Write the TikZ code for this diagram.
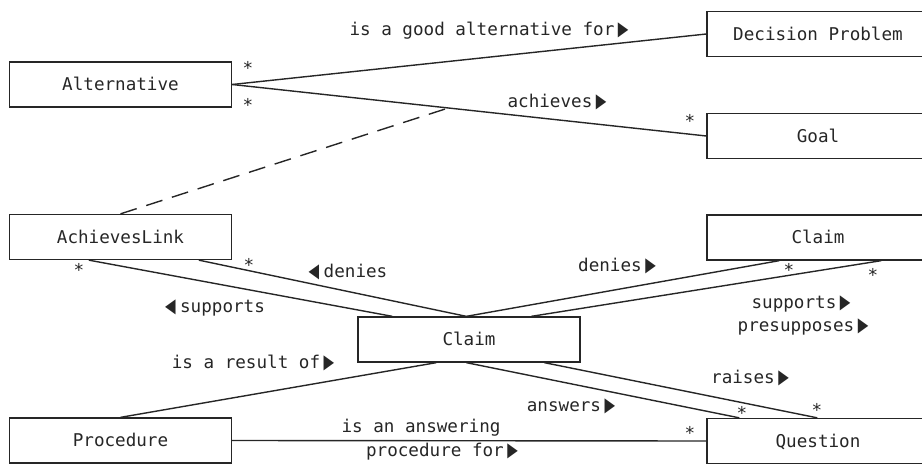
\documentclass[tikz,border=0pt]{standalone}
\usepackage{fontspec}
\setmonofont{DejaVu Sans Mono}
\newfontfamily\symfont{DejaVu Sans}
\usetikzlibrary{calc}
\newcommand{\rtri}{\hspace{3.5pt}\scalebox{0.78}[1.12]{\symfont ▶}}
\newcommand{\ltri}{\scalebox{0.78}[1.12]{\symfont ◀}\hspace{4.5pt}}
\tikzset{
  umlfont/.style={font=\ttfamily\fontsize{17.6}{20}\selectfont, text=black!85},
  cls/.style={umlfont, draw=black!85, line width=1.3pt, minimum width=222pt,
    minimum height=45pt, inner sep=0pt, text height=12.7pt, text depth=0pt},
  assoc/.style={draw=black!85, line width=1.4pt},
  lbl/.style={umlfont, anchor=base, inner sep=0pt},
  mult/.style={umlfont, inner sep=0pt},
}
\begin{document}
\begin{tikzpicture}[x=1pt, y=-1pt]
\useasboundingbox (0,0) rectangle (922,468);
% classes
\node[cls] (alt)  at (120.5, 84.5) {Alternative};
\node[cls] (dp)   at (818, 34)     {Decision Problem};
\node[cls] (goal) at (818, 136)    {Goal};
\node[cls] (al)   at (120.5, 237)  {AchievesLink};
\node[cls] (clr)  at (818, 237.5)  {Claim};
\node[cls] (cl)   at (469, 339.5)  {Claim};
\node[cls] (proc) at (120.5, 440.5){Procedure};
\node[cls] (q)    at (818, 441)    {Question};

% attachment points
\coordinate (alS1) at ([xshift=80pt]al.south west);
\coordinate (alS2) at ([xshift=190pt]al.south west);
\coordinate (clN1) at ([xshift=35pt]cl.north west);
\coordinate (clN2) at ([xshift=109pt]cl.north west);
\coordinate (clN3) at ([xshift=174pt]cl.north west);
\coordinate (clS1) at ([xshift=79pt]cl.south west);
\coordinate (clS2) at ([xshift=109pt]cl.south west);
\coordinate (clS3) at ([xshift=187pt]cl.south west);
\coordinate (clrS1) at ([xshift=73pt]clr.south west);
\coordinate (clrS2) at ([xshift=175pt]clr.south west);
\coordinate (qN1) at ([xshift=33pt]q.north west);
\coordinate (qN2) at ([xshift=111pt]q.north west);

% associations
\draw[assoc] (alt.east) -- (dp.west);
\draw[assoc] (alt.east) -- (goal.west);
\coordinate (achmid) at ($(alt.east)!0.456!(goal.west)$);
\draw[assoc, dash pattern=on 17pt off 10pt] (al.north) -- (achmid);
\draw[assoc] (alS1) -- (clN1);
\draw[assoc] (alS2) -- (clN2);
\draw[assoc] (clN2) -- (clrS1);
\draw[assoc] (clN3) -- (clrS2);
\draw[assoc] (clS1) -- (proc.north);
\draw[assoc] (clS2) -- (qN1);
\draw[assoc] (clS3) -- (qN2);
\draw[assoc] (proc.east) -- (q.west);

% labels
\node[lbl] (l1) at (489, 36) {is a good alternative for\rtri};
\node[lbl] (l2) at (557, 108) {achieves\rtri};
\node[lbl] (l3) at (348, 277) {\ltri denies};
\node[lbl] (l4) at (215, 312) {\ltri supports};
\node[lbl] (l5) at (253, 368) {is a result of\rtri};
\node[lbl] (l6) at (617, 271) {denies\rtri};
\node[lbl] (l7) at (801, 308) {supports\rtri};
\node[lbl] (l8) at (803, 331) {presupposes\rtri};
\node[lbl] (l9) at (750, 383) {raises\rtri};
\node[lbl] (l10) at (571, 411) {answers\rtri};
\node[lbl] (l11) at (421, 432) {is an answering};
\node[lbl] (l12) at (442, 456) {procedure for\rtri};

% multiplicities
\node[mult] (m1) at (248, 68) {*};
\node[mult] (m2) at (248, 105) {*};
\node[mult] (m3) at (690, 121) {*};
\node[mult] (m4) at (79, 270) {*};
\node[mult] (m5) at (249, 265) {*};
\node[mult] (m6) at (789, 270) {*};
\node[mult] (m7) at (873, 275) {*};
\node[mult] (m8) at (742, 413) {*};
\node[mult] (m9) at (817, 410) {*};
\node[mult] (m10) at (690, 433) {*};
\end{tikzpicture}
\end{document}
